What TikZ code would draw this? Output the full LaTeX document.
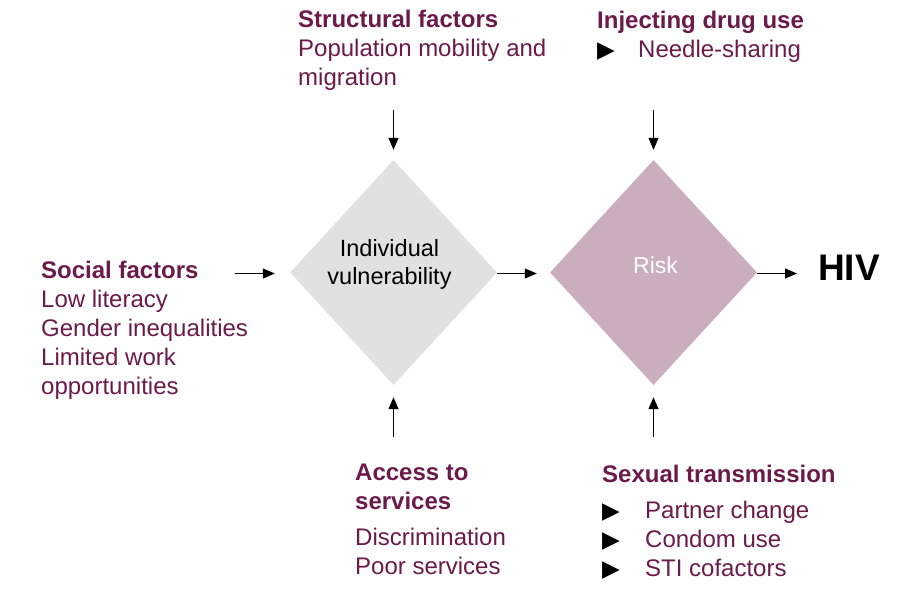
\documentclass[tikz,border=0pt]{standalone}
\usepackage{fontspec}
\setmainfont{Liberation Sans}
\newfontfamily\symfont{DejaVu Sans}
\usetikzlibrary{shapes.geometric,positioning,arrows.meta}

\definecolor{plum}{RGB}{107,26,74}
\definecolor{vulngray}{RGB}{225,226,224}
\definecolor{riskpink}{RGB}{203,173,192}

\newcommand{\tri}[1]{\makebox[#1][l]{\color{black}\symfont\fontsize{23}{23}\selectfont ▶}}

\tikzset{
  factor/.style={anchor=base west, inner sep=0pt, align=left, text=plum,
    font=\fontsize{24}{29}\selectfont},
  stage/.style={diamond, inner sep=0pt, minimum width=207pt, minimum height=225pt},
  flow/.style={-{Triangle[length=12pt,width=10pt]}, line width=1.2pt}
}

\begin{document}
\begin{tikzpicture}[x=1pt,y=-1pt]
\useasboundingbox (0,0) rectangle (911,606);


\node[stage, fill=vulngray] (vul) at (393.5,272.5) {};
\node[stage, fill=riskpink] (risk) at (653.5,272.5) {};

\node[font=\fontsize{23.5}{28}\selectfont, align=center, inner sep=0pt] (vullabel)
  at ([xshift=-4pt,yshift=8pt]vul.center) {Individual\\vulnerability};
\node[font=\fontsize{23}{28}\selectfont, text=white, inner sep=0pt] (risklabel)
  at ([xshift=2pt,yshift=7pt]risk.center) {Risk};

\node[anchor=base west, inner sep=0pt, font=\fontsize{37}{40}\selectfont\bfseries] (hiv)
  at (818,280) {HIV};

% anchored at the baseline of the last line
\node[factor] (structural) at (298,85)
  {\textbf{Structural factors}\\Population mobility and\\migration};
\node[factor] (injecting) at (597,57)
  {\textbf{Injecting drug use}\\\tri{41pt}Needle-sharing};
\node[factor] (social) at (41,394)
  {\textbf{Social factors}\\Low literacy\\Gender inequalities\\Limited work\\opportunities};
\node[factor] (access) at (355,574)
  {\textbf{Access to}\\\textbf{services}\\[7pt]Discrimination\\Poor services};
\node[factor] (sexual) at (602,576)
  {\textbf{Sexual transmission}\\[7pt]\tri{43pt}Partner change\\\tri{43pt}Condom use\\\tri{43pt}STI cofactors};


\draw[flow] ([xshift=-55pt,yshift=-1pt]vul.west) -- ([xshift=-15pt,yshift=-1pt]vul.west);
\draw[flow] ([yshift=-1pt]vul.east) -- ([xshift=-13pt,yshift=-1pt]risk.west);
\draw[flow] ([yshift=-1pt]risk.east) -- ([xshift=-21pt,yshift=-1pt]risk.east -| hiv.west);

\draw[flow] ([yshift=50pt]vul.north) -- ([yshift=10pt]vul.north);
\draw[flow] ([yshift=50pt]risk.north) -- ([yshift=10pt]risk.north);
\draw[flow] ([yshift=-52pt]vul.south) -- ([yshift=-12pt]vul.south);
\draw[flow] ([yshift=-52pt]risk.south) -- ([yshift=-12pt]risk.south);

\end{tikzpicture}
\end{document}
